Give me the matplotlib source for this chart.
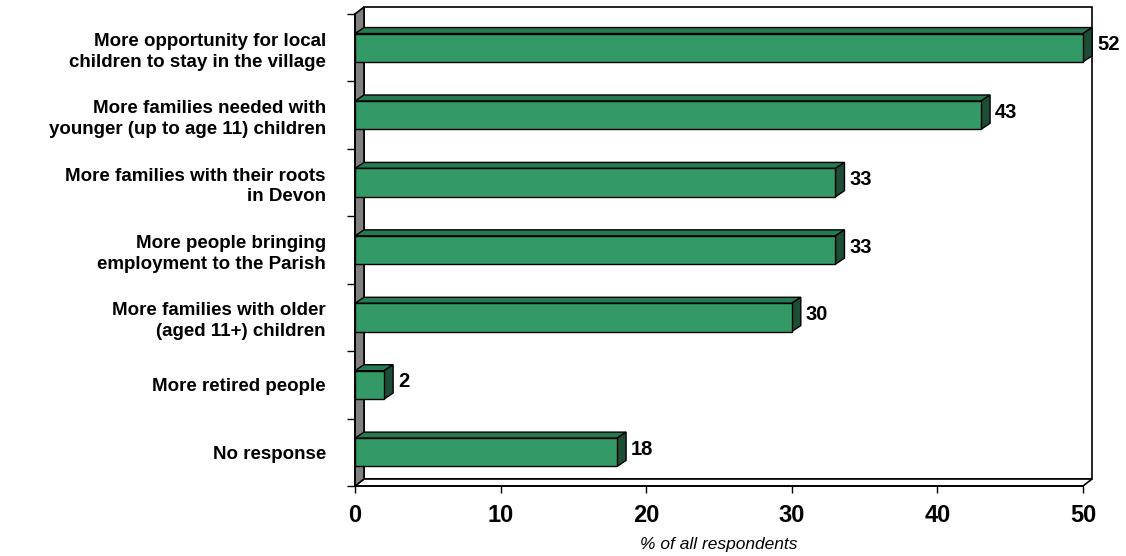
import matplotlib
matplotlib.use('Agg')
import matplotlib.pyplot as plt
from matplotlib.patches import Polygon, Rectangle

plt.rcParams['font.family'] = ['Liberation Sans', 'DejaVu Sans']

categories = [
    "More opportunity for local\nchildren to stay in the village",
    "More families needed with\nyounger (up to age 11) children",
    "More families with their roots\nin Devon",
    "More people bringing\nemployment to the Parish",
    "More families with older\n(aged 11+) children",
    "More retired people",
    "No response",
]
values = [52, 43, 33, 33, 30, 2, 18]
x_ticks = [0, 10, 20, 30, 40, 50]
x_label = "% of all respondents"

XMAX = 50
FRONT = '#339966'
TOP = '#267a52'
SIDE = '#1d4d35'
WALL = '#808080'

W, H, DPI = 11.26, 5.56, 100
fig = plt.figure(figsize=(W, H), dpi=DPI)
# front plane of the 3D box in figure pixels
left_px, right_px, top_px, bot_px = 355, 1083, 14, 486
ax = fig.add_axes([left_px / 1126, (556 - bot_px) / 556,
                   (right_px - left_px) / 1126, (bot_px - top_px) / 556])
n = len(categories)
ax.set_xlim(0, XMAX)
ax.set_ylim(n - 0.5, -0.5)

# pixel depth -> data units
px_x = (right_px - left_px) / XMAX
px_y = (bot_px - top_px) / n
wdx, wdy = 9 / px_x, -7 / px_y
bdx, bdy = 9 / px_x, -6 / px_y

y0, y1 = -0.5, n - 0.5
# back wall, floor and side wall
ax.add_patch(Rectangle((wdx, y0 + wdy), XMAX, n, facecolor='white',
                       edgecolor='black', lw=1.2, clip_on=False, zorder=1))
ax.add_patch(Polygon([(0, y1), (XMAX, y1), (XMAX + wdx, y1 + wdy), (wdx, y1 + wdy)],
                     closed=True, facecolor='white', edgecolor='black', lw=1.2,
                     clip_on=False, zorder=2))
ax.add_patch(Polygon([(0, y1), (0, y0), (wdx, y0 + wdy), (wdx, y1 + wdy)],
                     closed=True, facecolor=WALL, edgecolor='black', lw=1.2,
                     clip_on=False, zorder=2))

h = 0.42
for i, v in enumerate(values):
    w = min(v, XMAX)
    yt, yb = i - h / 2, i + h / 2
    ax.add_patch(Polygon([(0, yt), (w, yt), (w + bdx, yt + bdy), (bdx, yt + bdy)],
                         closed=True, facecolor=TOP, edgecolor='black', lw=1,
                         clip_on=False, zorder=3))
    ax.add_patch(Polygon([(w, yt), (w, yb), (w + bdx, yb + bdy), (w + bdx, yt + bdy)],
                         closed=True, facecolor=SIDE, edgecolor='black', lw=1,
                         clip_on=False, zorder=3))
    ax.add_patch(Rectangle((0, yt), w, h, facecolor=FRONT, edgecolor='black',
                           lw=1, clip_on=False, zorder=4))
    ax.text(w + bdx + 5 / px_x, i + bdy / 2, str(v), fontsize=14.5, fontweight='bold',
            ha='left', va='center', zorder=5)

for s in ['top', 'right']:
    ax.spines[s].set_visible(False)
ax.spines['left'].set_zorder(6)
ax.spines['bottom'].set_zorder(6)
ax.spines['left'].set_linewidth(1.2)
ax.spines['bottom'].set_linewidth(1.2)

ax.set_xticks(x_ticks)
ax.set_xticklabels([str(t) for t in x_ticks], fontsize=17, fontweight='bold')
ax.tick_params(axis='x', direction='out', length=5, width=1, pad=8)

ax.set_yticks([k - 0.5 for k in range(n + 1)])
ax.set_yticklabels([])
ax.set_yticks(range(n), minor=True)
ax.set_yticklabels(categories, minor=True, fontsize=13.5, fontweight='bold',
                   linespacing=1.3)
ax.tick_params(axis='y', which='major', direction='out', length=5.5, width=1)
ax.tick_params(axis='y', which='minor', length=0, pad=21)

ax.set_xlabel(x_label, fontsize=12.5, fontstyle='italic', labelpad=7)

fig.savefig('out.png', dpi=DPI)
